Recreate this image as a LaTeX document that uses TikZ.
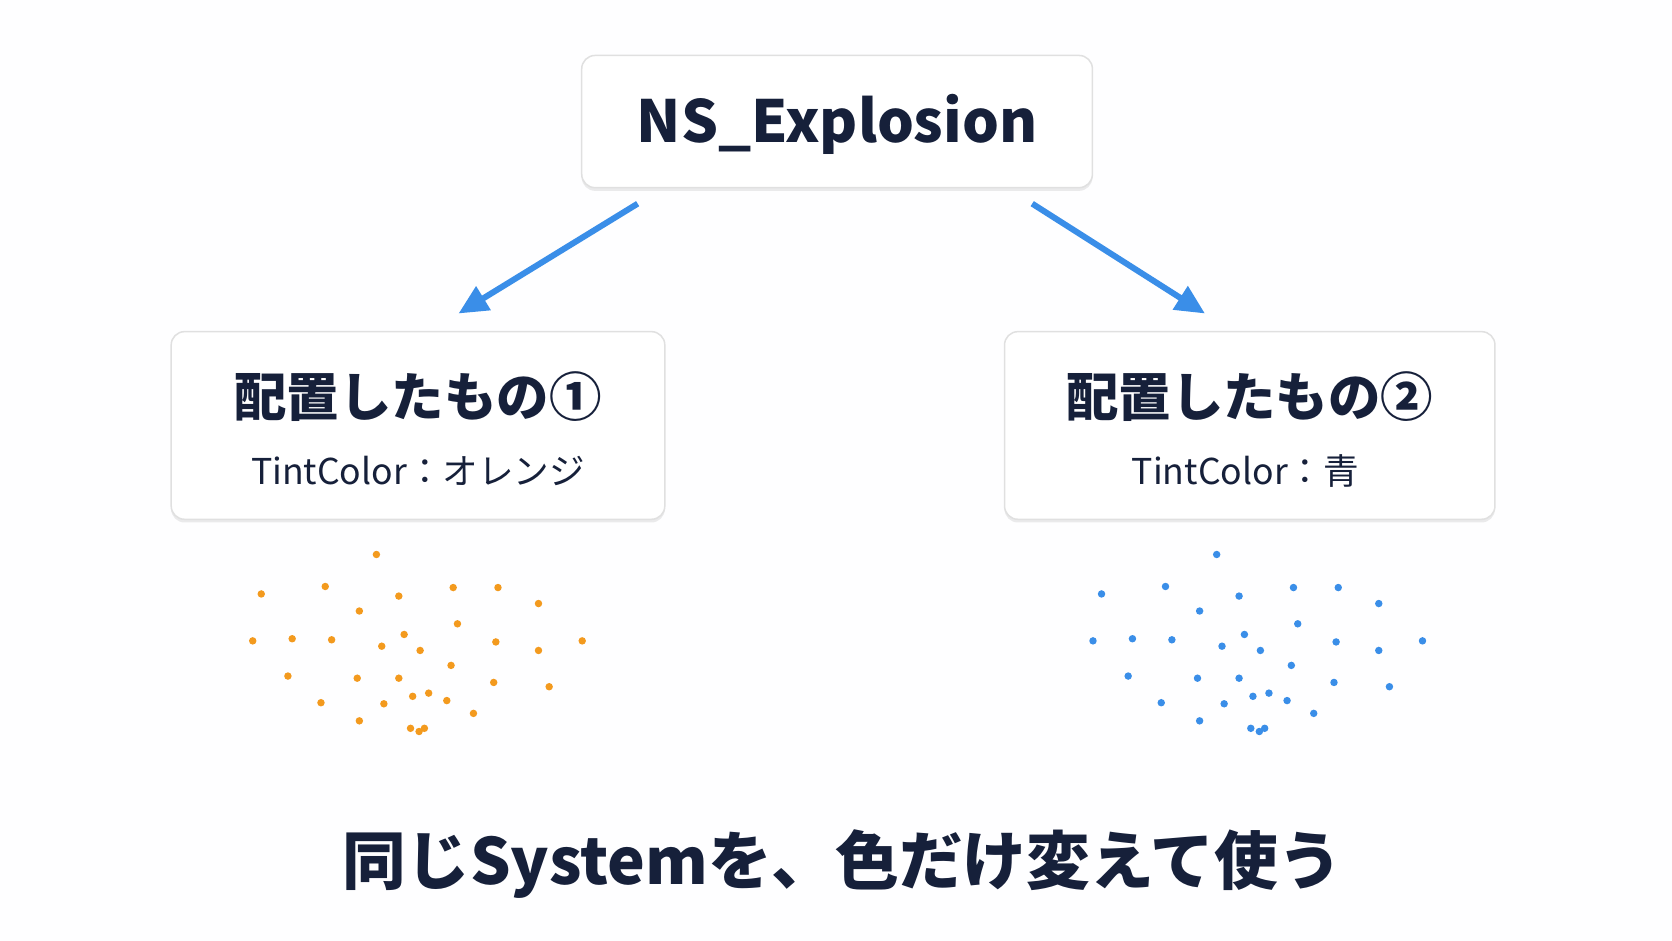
\documentclass[tikz,border=0pt]{standalone}
\usepackage{fontspec}
\setmainfont{Noto Sans CJK JP}
\usetikzlibrary{shadows,arrows.meta}
\definecolor{ink}{HTML}{16203A}
\definecolor{arr}{HTML}{3A8EE8}
\definecolor{org}{HTML}{F39A1E}
\definecolor{blu}{HTML}{3A8EE8}
\begin{document}
\begin{tikzpicture}[x=0.02cm,y=-0.02cm,
  box/.style={draw=black!12,line width=0.8pt,fill=white,rounded corners=0.25cm,
    drop shadow={shadow xshift=0pt,shadow yshift=-0.06cm,opacity=0.08,fill=black}},
  arrow/.style={draw=arr,line width=3.2pt,-{Triangle[length=0.55cm,width=0.5cm]}},
  dot/.style={circle,inner sep=0pt,minimum size=0.14cm}]
\fill[white!97!blue!10] (0,0) rectangle (1568,882);
\useasboundingbox (0,0) rectangle (1568,882);
\node[box,minimum width=9.58cm,minimum height=2.48cm] (top) at (785,114) {};
\node[text=ink,font=\bfseries\fontsize{31}{36}\selectfont] (toptext) at (785,117) {NS\_Explosion};
\node[box,minimum width=9.26cm,minimum height=3.52cm] (l) at (392,399) {};
\node[box,minimum width=9.2cm,minimum height=3.52cm] (r) at (1172,399) {};
\node[text=ink,font=\bfseries\fontsize{28}{32}\selectfont] (lt) at (392,372) {配置したもの①};
\node[text=ink,font=\fontsize{19}{24}\selectfont] (ls) at (392,442) {TintColor：オレンジ};
\node[text=ink,font=\bfseries\fontsize{28}{32}\selectfont] (rt) at (1172,372) {配置したもの②};
\node[text=ink,font=\fontsize{19}{24}\selectfont] (rs) at (1168,442) {TintColor：青};
\coordinate (a1s) at (598,191); \coordinate (a1e) at (430,294);
\coordinate (a2s) at (968,191); \coordinate (a2e) at (1130,294);
\draw[arrow] (a1s) -- (a1e);
\draw[arrow] (a2s) -- (a2e);
\foreach \x/\y [count=\i] in {353/520,245/557,305/550,374/559,425/551,467/551,505/566,337/573,429/585,237/601,274/599,311/600,379/595,358/606,394/610,465/602,505/610,546/601,423/624,270/634,335/636,374/636,463/640,515/644,387/653,402/650,419/657,301/659,360/660,444/669,337/676,385/683,393/686,398/683}{
  \node[dot,fill=org] (o\i) at (\x,\y) {};
  \node[dot,fill=blu] (b\i) at (\x+788,\y) {};
}
\node[text=ink,font=\bfseries\fontsize{34}{40}\selectfont] (bottom) at (790,810) {同じSystemを、色だけ変えて使う};
\end{tikzpicture}
\end{document}
